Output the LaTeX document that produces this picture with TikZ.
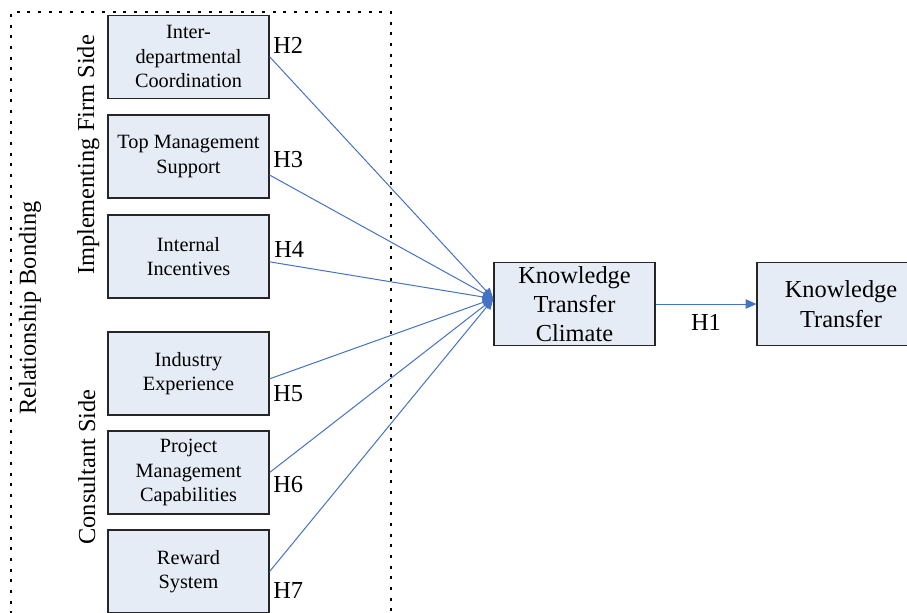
\documentclass[tikz,border=0pt]{standalone}
\usepackage{fontspec}
\setmainfont{Liberation Serif}
\newfontfamily\diagfont{Liberation Serif}
\usetikzlibrary{arrows.meta}
\definecolor{boxfill}{RGB}{229,236,246}
\definecolor{linkblue}{RGB}{68,114,196}

\begin{document}
\begin{tikzpicture}[
      x=0.75pt, y=-0.75pt,
      factor/.style={rectangle, draw=black!85, fill=boxfill, line width=0.9pt,
        minimum width=120.75pt, minimum height=62.25pt, inner sep=0pt,
        align=center, font=\diagfont\fontsize{15.2}{18.4}\selectfont},
      outcome/.style={factor, font=\diagfont\fontsize{18.3}{22}\selectfont},
      hyp/.style={inner sep=0pt, font=\diagfont\fontsize{18.3}{22}\selectfont},
      side/.style={rotate=90, inner sep=0pt, anchor=base,
        font=\diagfont\fontsize{18.3}{22}\selectfont},
      link/.style={draw=linkblue, line width=0.75pt,
        -{Triangle[length=8pt,width=7pt]}},
      frame/.style={line width=0.9pt, dash pattern=on 2.2pt off 5.8pt}
    ]
    \useasboundingbox (0,0) rectangle (907,612);

    % dotted frame
    \draw[frame] (11,625) -- (11,12) -- (391,12) -- (391,625);

    % side labels
    \node[side] (bond) at (36,308) {Relationship Bonding};
    \node[side] (firm) at (94,155) {Implementing Firm Side};
    \node[side] (cons) at (95,467) {Consultant Side};

    % antecedents
    \node[factor] (idc) at (188.5,56.7)  {Inter-\\departmental\\Coordination};
    \node[factor] (tms) at (188.5,156.5) {Top Management\\Support};
    \node[factor] (inc) at (188.5,256.5) {Internal\\Incentives};
    \node[factor] (ind) at (188.5,373.5) {Industry\\Experience};
    \node[factor] (pmc) at (188.5,472.5) {Project\\Management\\Capabilities};
    \node[factor] (rew) at (188.5,571.5) {Reward\\System};

    % outcomes
    \node[outcome] (ktc) at (574.5,304) {Knowledge\\Transfer\\Climate};
    \node[outcome, minimum width=126pt] (kt) at (841,304) {Knowledge\\Transfer};
    \coordinate (hub) at ([yshift=4pt]ktc.west);

    % hypotheses
    \draw[link] (idc.east) -- (hub);
    \draw[link] ([yshift=-13.9pt]tms.east) -- (hub);
    \draw[link] ([yshift=-4pt]inc.east) -- (hub);
    \draw[link] ([yshift=-4pt]ind.east) -- (hub);
    \draw[link] (pmc.east) -- (hub);
    \draw[link] (rew.east) -- (hub);
    \draw[link] (ktc.east) -- (kt.west);

    \node[hyp, anchor=west] (h2) at (273,45)  {H2};
    \node[hyp, anchor=west] (h3) at (273,160) {H3};
    \node[hyp, anchor=west] (h4) at (274,249) {H4};
    \node[hyp, anchor=west] (h5) at (273,394) {H5};
    \node[hyp, anchor=west] (h6) at (273,485) {H6};
    \node[hyp, anchor=west] (h7) at (273,590) {H7};
    \node[hyp] (h1) at (706,322) {H1};
  \end{tikzpicture}
\end{document}
